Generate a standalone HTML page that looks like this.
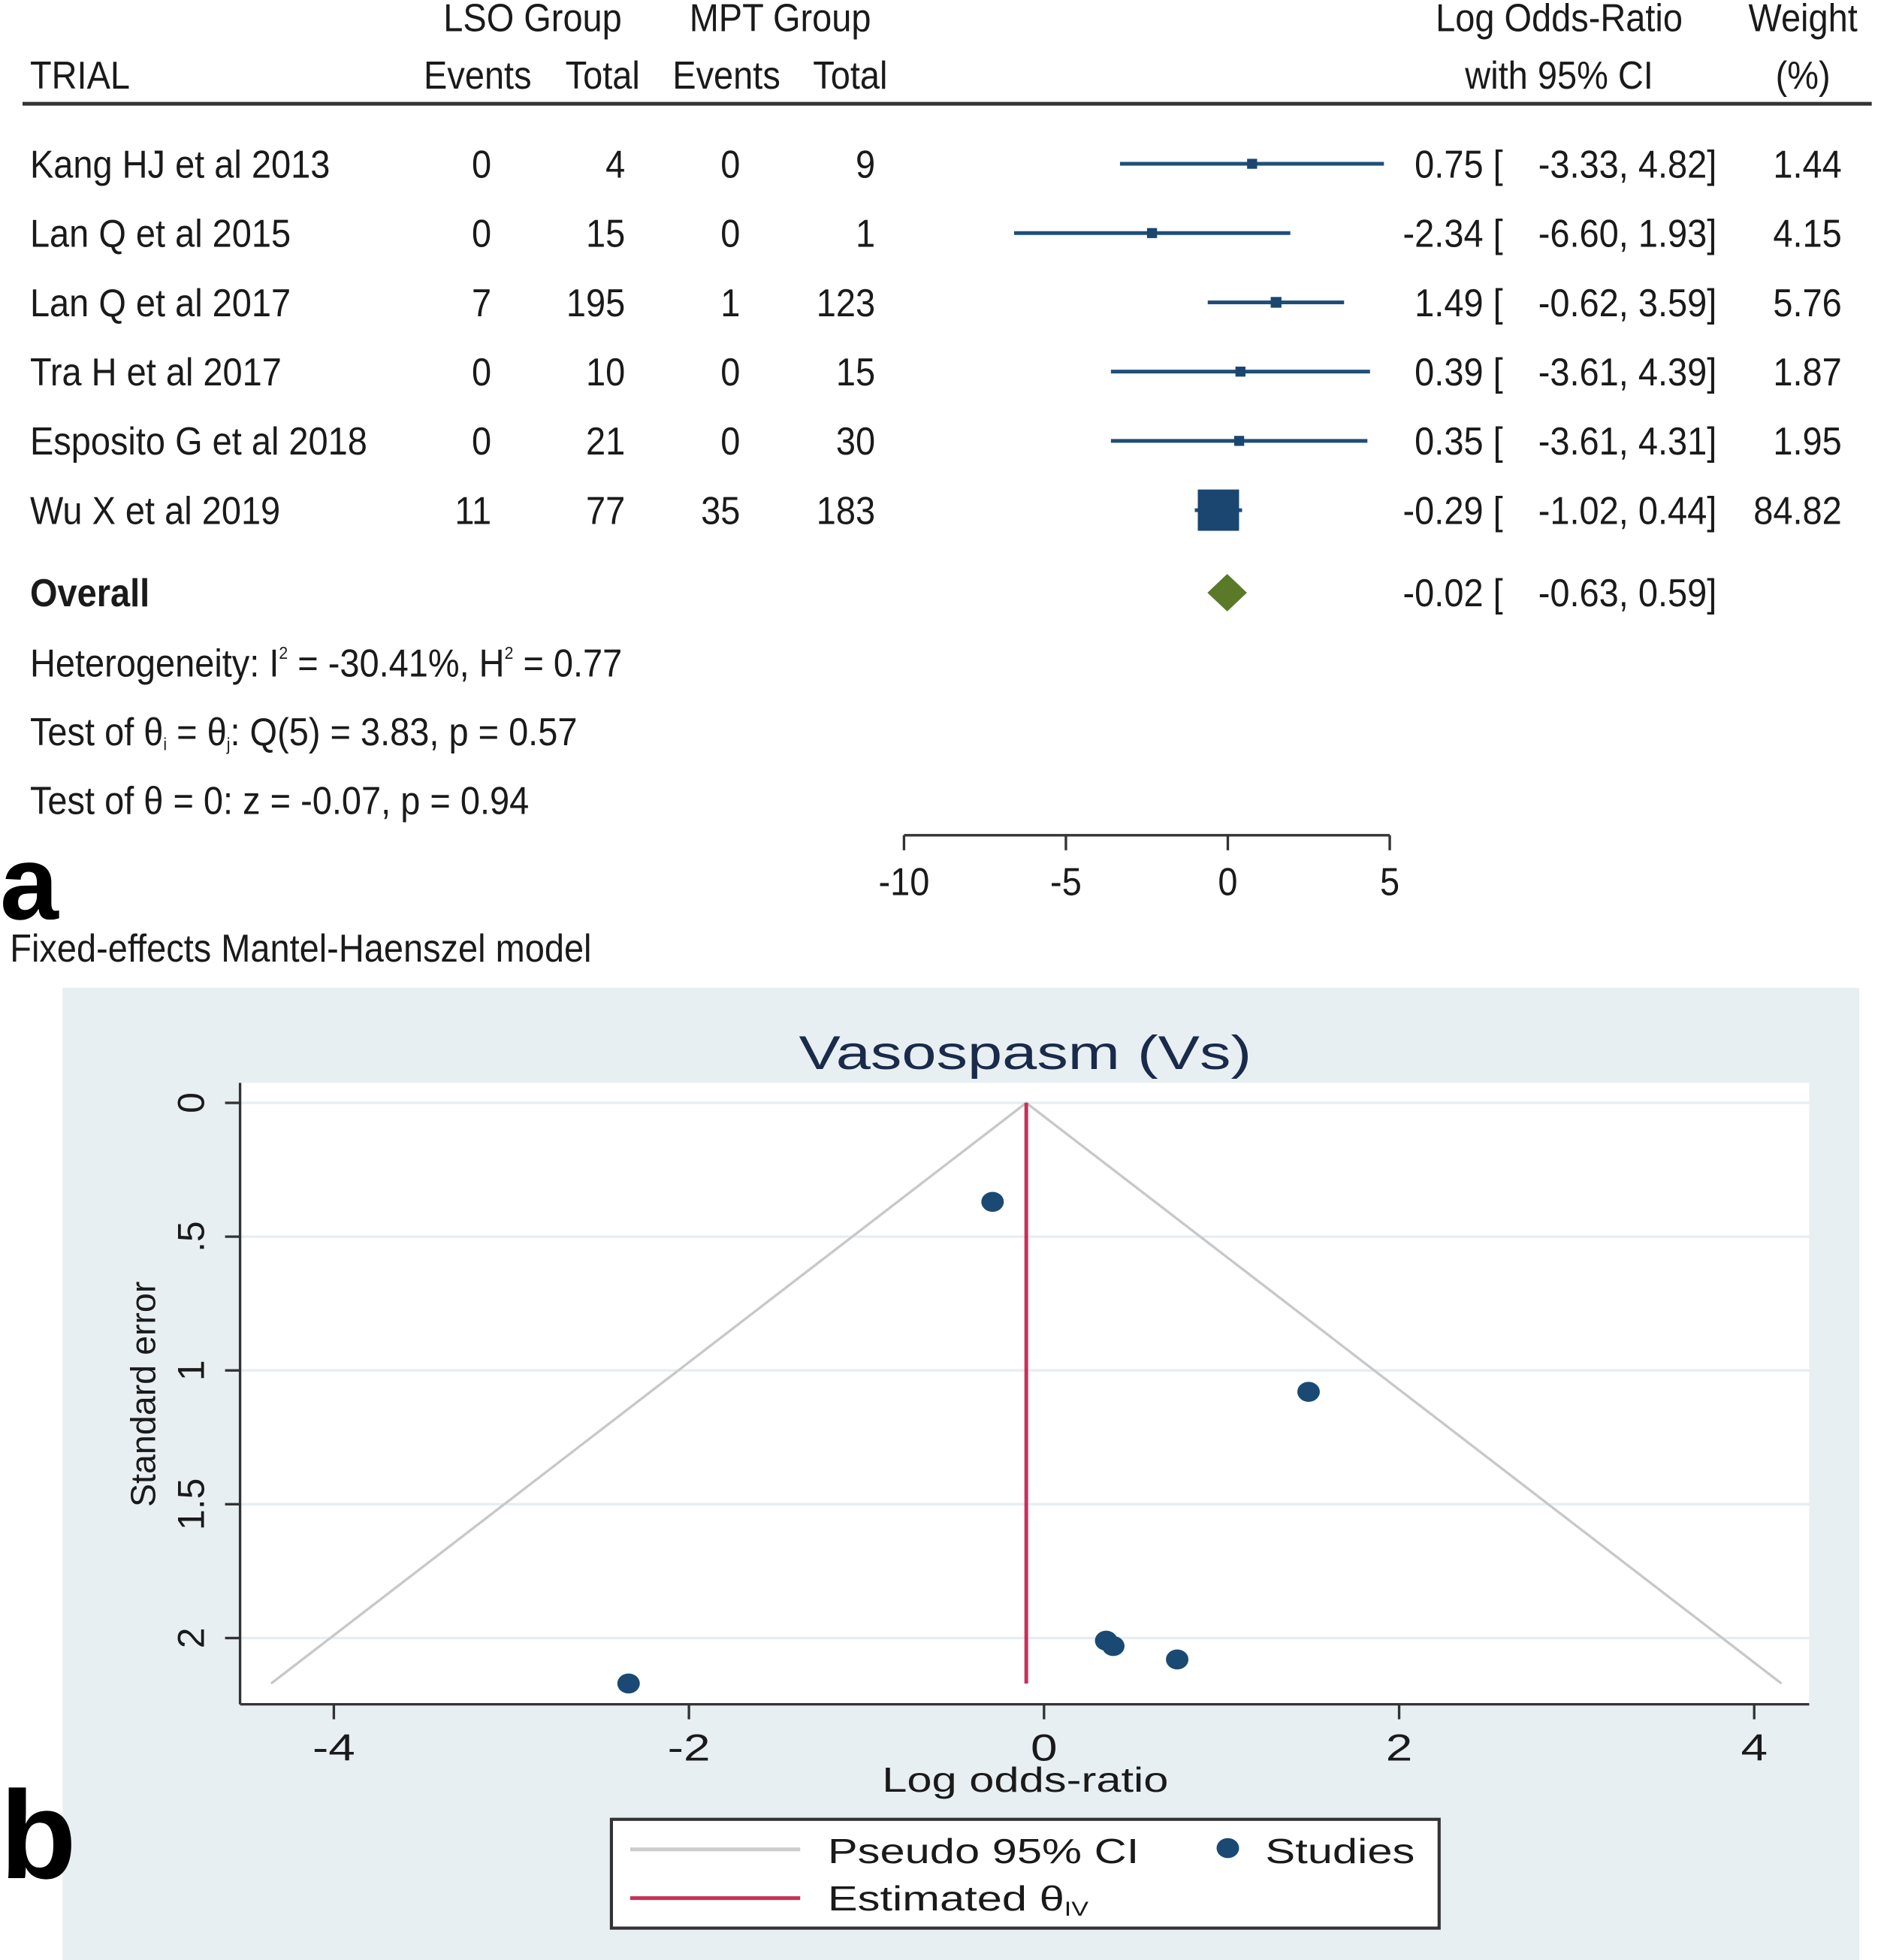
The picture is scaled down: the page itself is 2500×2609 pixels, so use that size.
<!DOCTYPE html>
<html><head><meta charset="utf-8"><style>
html,body{margin:0;padding:0;background:#fff;}
svg{display:block;}
.t{font-family:"Liberation Sans Narrow","Liberation Sans",sans-serif;font-size:31px;fill:#1a1a1a;}
.f{font-family:"Liberation Sans",sans-serif;fill:#1a1a1a;}
</style></head><body>
<svg id="fig" width="2500" height="2609" viewBox="0 0 1502 1567.5" preserveAspectRatio="none" xmlns="http://www.w3.org/2000/svg">
<g id="forest">
  <text class="t" x="426" y="25" text-anchor="middle">LSO Group</text>
  <text class="t" x="624" y="25" text-anchor="middle">MPT Group</text>
  <text class="t" x="1247" y="25" text-anchor="middle">Log Odds-Ratio</text>
  <text class="t" x="1442" y="25" text-anchor="middle">Weight</text>
  <text class="t" x="24" y="71">TRIAL</text>
  <text class="t" x="382" y="71" text-anchor="middle">Events</text>
  <text class="t" x="482" y="71" text-anchor="middle">Total</text>
  <text class="t" x="581" y="71" text-anchor="middle">Events</text>
  <text class="t" x="680" y="71" text-anchor="middle">Total</text>
  <text class="t" x="1247" y="71" text-anchor="middle">with 95% CI</text>
  <text class="t" x="1442" y="71" text-anchor="middle">(%)</text>
  <line x1="18" y1="83" x2="1497" y2="83" stroke="#333" stroke-width="3"/>
  <g id="rows"></g>
  <text class="t" x="24" y="485" font-weight="bold">Overall</text>
  <text class="t" x="24" y="541">Heterogeneity: I<tspan dy="-14" font-size="14">2</tspan><tspan dy="14"> = -30.41%, H</tspan><tspan dy="-14" font-size="14">2</tspan><tspan dy="14"> = 0.77</tspan></text>
  <text class="t" x="24" y="596">Test of θ<tspan font-size="14" dy="4">i</tspan><tspan dy="-4"> = θ</tspan><tspan font-size="14" dy="4">j</tspan><tspan dy="-4">: Q(5) = 3.83, p = 0.57</tspan></text>
  <text class="t" x="24" y="651">Test of θ = 0: z = -0.07, p = 0.94</text>
  <g id="faxis"></g>
  <text x="0" y="735" font-family="Liberation Sans,sans-serif" font-weight="bold" font-size="84" fill="#000">a</text>
  <text class="t" x="8" y="769">Fixed-effects Mantel-Haenszel model</text>
</g>
<g id="funnel">
  <rect x="50" y="790" width="1437" height="778" fill="#e8eff2"/>
  <rect x="192" y="866" width="1255" height="497" fill="#fff"/>
  <text x="820" y="855" text-anchor="middle" font-family="Liberation Sans,sans-serif" font-size="38" fill="#1a2a4a" textLength="362" lengthAdjust="spacingAndGlyphs">Vasospasm (Vs)</text>
  <g id="fgrid"></g>
  <g id="fmarks"></g>
  <line x1="192" y1="866" x2="192" y2="1363" stroke="#333" stroke-width="2"/>
  <line x1="192" y1="1363" x2="1447" y2="1363" stroke="#333" stroke-width="2"/>
  <text class="f fs" x="820" y="1433" text-anchor="middle" font-size="28">Log odds-ratio</text>
  <text class="f" transform="translate(124,1115) rotate(-90)" text-anchor="middle" font-size="28">Standard error</text>
  <text x="0" y="1502" font-family="Liberation Sans,sans-serif" font-weight="bold" font-size="100" fill="#000">b</text>
  <g>
    <rect x="489" y="1455" width="662" height="87" fill="#fff" stroke="#333" stroke-width="2.5"/>
    <line x1="504" y1="1479" x2="640" y2="1479" stroke="#ccc" stroke-width="3"/>
    <text class="f fs" x="662" y="1490" font-size="28">Pseudo 95% CI</text>
    <ellipse cx="982" cy="1478" rx="9" ry="8" fill="#1a4a73"/>
    <text class="f fs" x="1012" y="1490" font-size="28">Studies</text>
    <line x1="504" y1="1518" x2="640" y2="1518" stroke="#c8305a" stroke-width="3"/>
    <text class="f fs" x="662" y="1528" font-size="28">Estimated θ<tspan font-size="16" dy="4">IV</tspan></text>
  </g>
</g>
</svg>
<script>
const trials=["Kang HJ et al 2013","Lan Q et al 2015","Lan Q et al 2017","Tra H et al 2017","Esposito G et al 2018","Wu X et al 2019"];
const lsoEvents=[0,0,7,0,0,11];
const lsoTotal=[4,15,195,10,21,77];
const mptEvents=[0,0,1,0,0,35];
const mptTotal=[9,1,123,15,30,183];
const logOR=[0.75,-2.34,1.49,0.39,0.35,-0.29];
const ciLow=[-3.33,-6.60,-0.62,-3.61,-3.61,-1.02];
const ciHigh=[4.82,1.93,3.59,4.39,4.31,0.44];
const weights=[1.44,4.15,5.76,1.87,1.95,84.82];
const overall=[-0.02,-0.63,0.59];
const forestTicks=[-10,-5,0,5];
const funnelSE=[2.08,2.17,1.08,2.03,2.01,0.37];
const funnelEstimate=-0.1;
const funnelXTicks=[-4,-2,0,2,4];
const funnelYTicks=[0,0.5,1,1.5,2];
const funnelYTickLabels=["0",".5","1","1.5","2"];

const NS="http://www.w3.org/2000/svg";
function mk(tag,attrs,parent,txt){const e=document.createElementNS(NS,tag);for(const k in attrs)e.setAttribute(k,attrs[k]);if(txt!==undefined)e.textContent=txt;parent.appendChild(e);return e;}
const fx=v=>982+v*25.9;
const rowY=i=>131+i*55.4;
const fmt=v=>v.toFixed(2);
const rows=document.getElementById('rows');
trials.forEach((t,i)=>{
  const y=rowY(i);
  let e=mk('text',{class:'t',x:24,y:y+11},rows,t);
  
  
  [[lsoEvents,393],[lsoTotal,500],[mptEvents,592],[mptTotal,700]].forEach(([arr,x])=>{
    e=mk('text',{class:'t',x:x,y:y+11,'text-anchor':'end'},rows,String(arr[i]));
    
    
  });
  e=mk('line',{x1:fx(ciLow[i]),x2:fx(ciHigh[i]),y1:y,y2:y,stroke:'#1f4e79','stroke-width':3},rows);
  
  
  const s=Math.max(8,33*Math.sqrt(weights[i]/84.82));
  e=mk('rect',{x:fx(logOR[i])-s/2,y:y-s/2,width:s,height:s,fill:'#1a4670'},rows);
  
  
  e=mk('text',{class:'t',x:1202,y:y+11,'text-anchor':'end'},rows,fmt(logOR[i])+' [');
  
  
  e=mk('text',{class:'t',x:1373,y:y+11,'text-anchor':'end'},rows,fmt(ciLow[i])+',  '+fmt(ciHigh[i])+']');
  
  
  e=mk('text',{class:'t',x:1473,y:y+11,'text-anchor':'end'},rows,fmt(weights[i]));
  
  
});
{const y=474;
 let e=mk('polygon',{points:`${fx(overall[1])},${y} ${fx(overall[0])},${y-15} ${fx(overall[2])},${y} ${fx(overall[0])},${y+15}`,fill:'#5a7a2a'},rows);
 
 
 e=mk('text',{class:'t',x:1202,y:y+11,'text-anchor':'end'},rows,fmt(overall[0])+' [');
 
 
 e=mk('text',{class:'t',x:1373,y:y+11,'text-anchor':'end'},rows,fmt(overall[1])+',  '+fmt(overall[2])+']');
 
 
}
const fa=document.getElementById('faxis');
let ax=mk('line',{x1:fx(forestTicks[0]),x2:fx(forestTicks[forestTicks.length-1]),y1:668,y2:668,stroke:'#333','stroke-width':2},fa);


forestTicks.forEach(v=>{
  let e=mk('line',{x1:fx(v),x2:fx(v),y1:668,y2:680,stroke:'#333','stroke-width':2},fa);
  
  
  e=mk('text',{class:'t',x:fx(v),y:716,'text-anchor':'middle'},fa,String(v));
  
  
});
// funnel
const px=v=>835+v*142;
const py=v=>882+v*214;
const fg=document.getElementById('fgrid');
funnelYTicks.forEach((v,i)=>{
  let e=mk('line',{x1:192,x2:1447,y1:py(v),y2:py(v),stroke:'#e6eef2','stroke-width':2},fg);
  
  
  e=mk('line',{x1:180,x2:192,y1:py(v),y2:py(v),stroke:'#333','stroke-width':2},fg);
  
  
  e=mk('text',{class:'f','font-size':30,'text-anchor':'middle',transform:`translate(163,${py(v)}) rotate(-90)`},fg,funnelYTickLabels[i]);
  
  
});
funnelXTicks.forEach(v=>{
  let e=mk('line',{x1:px(v),x2:px(v),y1:1363,y2:1375,stroke:'#333','stroke-width':2},fg);
  
  
  e=mk('text',{class:'f fs','font-size':30,'text-anchor':'middle',x:px(v),y:1408},fg,String(v));
  
  
});
const fm=document.getElementById('fmarks');
const seMax=Math.max(...funnelSE);
let e=mk('polyline',{points:`${px(funnelEstimate-1.96*seMax)},${py(seMax)} ${px(funnelEstimate)},${py(0)} ${px(funnelEstimate+1.96*seMax)},${py(seMax)}`,fill:'none',stroke:'#c8c8c8','stroke-width':2},fm);


e=mk('line',{x1:px(funnelEstimate),x2:px(funnelEstimate),y1:py(0),y2:py(seMax),stroke:'#c8305a','stroke-width':3},fm);


logOR.forEach((v,i)=>{
  const c=mk('ellipse',{cx:px(v),cy:py(funnelSE[i]),rx:9,ry:8,fill:'#1a4a73'},fm);
  
  
});
// horizontal scaling to mimic condensed / stretched fonts
function sx(el,k){const x=parseFloat(el.getAttribute('x'));el.setAttribute('transform',`translate(${x},0) scale(${k},1) translate(${-x},0)`);}
document.querySelectorAll('text.t').forEach(el=>sx(el,0.91));
document.querySelectorAll('text.fs').forEach(el=>sx(el,1.28));
</script>
</body></html>
